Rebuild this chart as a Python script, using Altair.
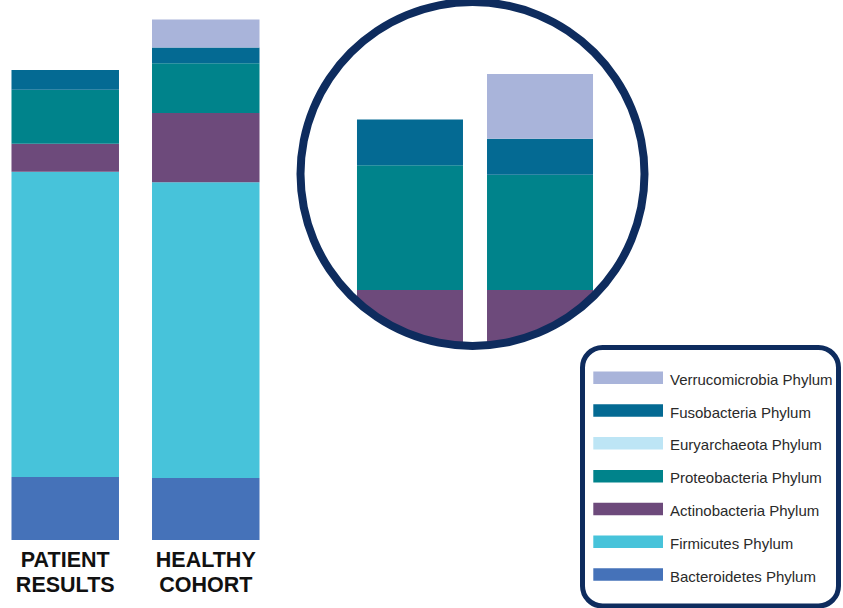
import altair as alt
import pandas as pd

# ---- data ----
groups = ["PATIENT RESULTS", "HEALTHY COHORT"]
group_labels = ["PATIENT\nRESULTS", "HEALTHY\nCOHORT"]
# stack order, bottom to top
phyla = ["Bacteroidetes Phylum", "Firmicutes Phylum", "Actinobacteria Phylum",
         "Proteobacteria Phylum", "Euryarchaeota Phylum", "Fusobacteria Phylum",
         "Verrucomicrobia Phylum"]
patient = [12.1, 58.7, 5.4, 10.4, 0.0, 3.8, 0.0]
healthy = [11.9, 56.9, 13.3, 9.6, 0.0, 3.0, 5.4]
colors = ["#4572B9", "#47C3DA", "#6D4A7B", "#00838B", "#BDE5F5", "#046A93", "#A9B4DA"]
legend_order = phyla[::-1]
legend_colors = colors[::-1]
# zoomed inset shows only the upper phyla, stacked above Actinobacteria
inset_phyla = ["Proteobacteria Phylum", "Euryarchaeota Phylum",
               "Fusobacteria Phylum", "Verrucomicrobia Phylum"]

NAVY = "#0E2C5E"

rows = []
for g, vals in zip(groups, [patient, healthy]):
    for i, (p, v) in enumerate(zip(phyla, vals)):
        rows.append({"group": g, "phylum": p, "value": v, "rank": i})
df = pd.DataFrame(rows)
lab_df = pd.DataFrame({"group": groups, "label": group_labels})
leg_df = pd.DataFrame({"phylum": legend_order})

color = alt.Color("phylum:N", scale=alt.Scale(domain=legend_order, range=legend_colors), legend=None)

# ---- main stacked bars ----
main_x = alt.X("group:N", sort=groups, axis=None,
               scale=alt.Scale(range=[11.7, 259.3], paddingInner=0.238, paddingOuter=0))
bars = alt.Chart(df).mark_bar(size=107.5).encode(
    x=main_x,
    y=alt.Y("value:Q", stack="zero", axis=None, scale=alt.Scale(domain=[0, 100], range=[540, 20])),
    color=color,
    order=alt.Order("rank:Q", sort="ascending"),
)
labels = alt.Chart(lab_df).mark_text(
    font="Liberation Sans", fontWeight="bold", fontSize=21.5, color="#111111",
    lineBreak="\n", lineHeight=25, baseline="alphabetic", align="center"
).encode(x=main_x, y=alt.value(567), text="label:N")
main = alt.layer(bars, labels)

# ---- zoomed inset ----
inset_x = alt.X("group:N", sort=groups, axis=None,
                scale=alt.Scale(range=[357, 593], paddingInner=0.185, paddingOuter=0))
inset_y_scale = alt.Scale(domain=[-4.5, 20.5], range=[344, 44], clamp=True)
inset_top = alt.Chart(df).transform_filter(
    alt.FieldOneOfPredicate(field="phylum", oneOf=inset_phyla)
).mark_bar(size=106).encode(
    x=inset_x,
    y=alt.Y("value:Q", stack="zero", axis=None, scale=inset_y_scale),
    color=color,
    order=alt.Order("rank:Q", sort="ascending"),
)
inset_base = alt.Chart(df).transform_filter(
    alt.datum.phylum == "Actinobacteria Phylum"
).transform_calculate(neg="-datum.value", zero="0").mark_bar(size=106).encode(
    x=inset_x,
    y=alt.Y("neg:Q", axis=None, scale=inset_y_scale),
    y2="zero:Q",
    color=color,
)
inset = alt.layer(inset_base, inset_top)

# ---- circle frame (white mask outside, navy ring) ----
cx, cy = 472.5, 174
mask = alt.Chart(leg_df.head(1)).mark_arc(
    radius=211, radius2=171, theta=0, theta2=6.2832, color="white"
).encode(x=alt.value(cx), y=alt.value(cy))
ring = alt.Chart(leg_df.head(1)).mark_arc(
    radius=176, radius2=168, theta=0, theta2=6.2832, color=NAVY
).encode(x=alt.value(cx), y=alt.value(cy))

# ---- legend box ----
box = alt.Chart(leg_df.head(1)).mark_rect(
    fill="white", stroke=NAVY, strokeWidth=5, cornerRadius=20
).encode(x=alt.value(582.5), x2=alt.value(838.5), y=alt.value(347.5), y2=alt.value(606))

leg_y = alt.Y("phylum:N", sort=legend_order, axis=None,
              scale=alt.Scale(domain=legend_order, range=[371.5, 580.8], paddingInner=0.619, paddingOuter=0))
leg_sw = alt.Chart(leg_df).mark_rect().encode(
    x=alt.value(593.3), x2=alt.value(663), y=leg_y, color=color)
leg_tx = alt.Chart(leg_df).mark_text(
    font="Liberation Sans", fontSize=15, color="#2a2a2a", align="left", baseline="middle", dy=2
).encode(x=alt.value(670), y=leg_y, text="phylum:N")
legend = alt.layer(leg_sw, leg_tx)

chart = alt.layer(main, inset, mask, ring, box, legend).resolve_scale(
    x="independent", y="independent"
).properties(
    width=843, height=608, padding=0, autosize=alt.AutoSizeParams(type="none")
).configure_view(stroke=None)

chart.save("out.html", embed_options={"renderer": "svg", "actions": False})
